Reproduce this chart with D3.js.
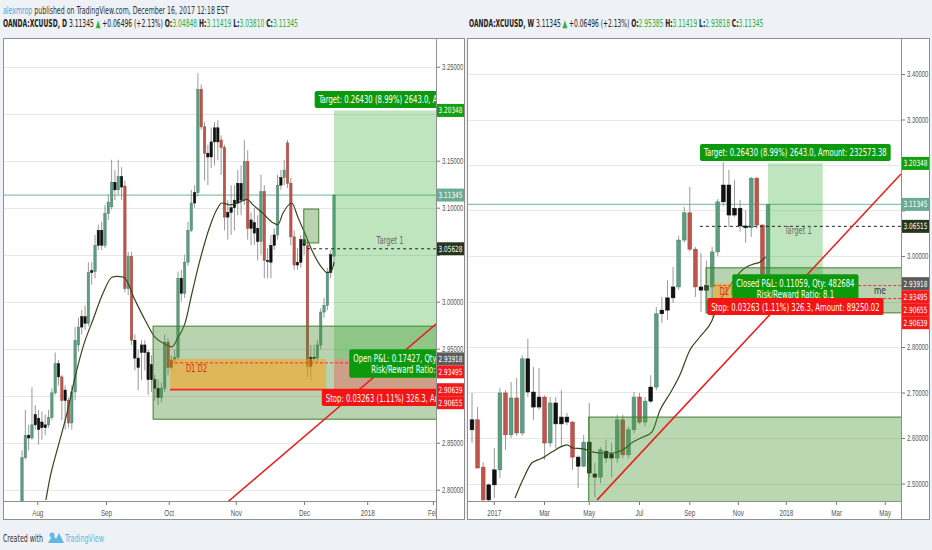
<!DOCTYPE html>
<html>
<head>
<meta charset="utf-8">
<script src="https://cdn.jsdelivr.net/npm/d3@7"></script>
<style>
  body { margin: 0; background: #eef1f5; }
  svg { display: block; font-family: "Liberation Sans Narrow", "DejaVu Sans Condensed", "Liberation Sans", sans-serif; }
</style>
</head>
<body>
<svg id="chart" width="932" height="550"></svg>
<script>
// ---------- daily candles (left) ----------
var leftOpen = [2.784,2.834,2.858,2.855,2.880,2.876,2.872,2.869,2.869,2.877,
  2.903,2.934,2.920,2.895,2.895,2.871,2.904,2.954,2.973,2.984,
  2.977,3.031,3.032,3.060,3.076,3.060,3.094,3.101,3.127,3.119,
  3.133,3.123,3.014,3.048,2.959,2.940,2.946,2.954,2.946,2.933,
  2.917,2.908,2.898,2.908,2.957,2.930,2.938,2.941,3.025,3.009,
  3.042,3.076,3.116,3.116,3.226,3.186,3.158,3.154,3.170,3.185,
  3.172,3.164,3.090,3.095,3.100,3.105,3.126,3.108,3.149,3.078,
  3.084,3.078,3.064,3.117,3.044,3.042,3.060,3.071,3.124,3.132,
  3.169,3.126,3.069,3.039,3.042,3.066,3.060,2.931,2.941,2.940,
  2.954,2.989,2.996,3.031,3.04848];
var leftClose = [2.834,2.858,2.855,2.869,2.869,2.864,2.866,2.866,2.877,2.903,
  2.934,2.920,2.895,2.906,2.871,2.904,2.959,2.973,2.984,2.977,
  3.031,3.033,3.060,3.076,3.060,3.094,3.106,3.127,3.119,3.133,
  3.122,3.014,3.048,2.959,2.940,2.930,2.954,2.946,2.917,2.917,
  2.908,2.898,2.908,2.957,2.930,2.938,2.941,3.025,3.009,3.042,
  3.076,3.105,3.105,3.226,3.186,3.158,3.154,3.170,3.185,3.170,
  3.164,3.090,3.095,3.100,3.108,3.126,3.108,3.149,3.078,3.087,
  3.073,3.064,3.117,3.044,3.043,3.060,3.071,3.124,3.132,3.140,
  3.126,3.069,3.039,3.042,3.066,3.060,2.931,2.941,2.940,2.954,
  2.989,2.996,3.031,3.050,3.11345];
var leftHigh = [2.842,2.885,2.869,2.909,2.890,2.885,2.883,2.880,2.885,2.908,
  2.946,2.938,2.922,2.911,2.898,2.911,2.973,2.983,2.991,2.996,
  3.042,3.042,3.071,3.082,3.085,3.103,3.114,3.151,3.140,3.151,
  3.143,3.129,3.053,3.053,2.965,2.949,2.959,2.959,2.949,2.943,
  2.922,2.917,2.914,2.965,2.961,2.943,2.949,3.032,3.034,3.050,
  3.085,3.119,3.124,3.243,3.231,3.191,3.167,3.185,3.191,3.193,
  3.177,3.167,3.108,3.124,3.124,3.140,3.145,3.172,3.161,3.095,
  3.100,3.092,3.135,3.124,3.057,3.071,3.078,3.135,3.140,3.151,
  3.172,3.132,3.076,3.057,3.071,3.076,3.066,2.954,2.954,2.959,
  2.993,3.004,3.036,3.055,3.11419];
var leftLow = [2.775,2.832,2.842,2.853,2.864,2.848,2.853,2.858,2.866,2.874,
  2.901,2.911,2.874,2.864,2.866,2.864,2.895,2.947,2.965,2.970,
  2.974,3.018,3.025,3.055,3.055,3.057,3.087,3.098,3.108,3.114,
  3.108,3.010,3.007,2.954,2.927,2.906,2.917,2.927,2.901,2.904,
  2.895,2.890,2.893,2.904,2.922,2.927,2.933,2.938,3.000,3.004,
  3.038,3.074,3.100,3.112,3.183,3.129,3.124,3.142,3.145,3.151,
  3.135,3.076,3.066,3.071,3.076,3.092,3.092,3.103,3.066,3.060,
  3.060,3.044,3.050,3.025,3.025,3.025,3.055,3.066,3.119,3.124,
  3.121,3.060,3.034,3.034,3.036,3.050,2.920,2.917,2.936,2.936,
  2.949,2.983,2.991,3.025,3.03810];
var leftColor = ("ggkgkkkkgg" + "gkrkrgggkk" + "gkgkkgggkg" + "krgrkkkkkk" + "kkggrkggkg" +
  "ggkgrrkkkk" + "rrkkkkkgrk" + "kkgrkkkgkg" + "rrrkkkrkkg" + "gggkg").split("");

// 20-period average as (bar, price)
var leftMaIdx = [7.2,8.4,10.8,13.6,16.0,18.4,21.4,24.4,27.1,28.6,30.7,34.0,37.0,40.1,42.5,45.2,47.0,49.1,51.2,53.6,
  56.6,58.7,60.2,62.7,65.7,67.8,69.6,72.6,75.6,77.1,78.6,81.3,83.1,85.2,87.7,90.4,91.9,93.4,94.0];
var leftMaVal = [2.789,2.812,2.845,2.882,2.920,2.952,2.981,3.009,3.026,3.027,3.026,3.002,2.981,2.962,2.956,2.952,2.962,2.977,3.009,3.044,
  3.080,3.098,3.105,3.103,3.106,3.109,3.103,3.094,3.084,3.082,3.094,3.105,3.090,3.073,3.052,3.036,3.031,3.034,3.042];

var leftTicks = [2.80,2.85,2.90,2.95,3.00,3.05,3.10,3.15,3.20,3.25];
var leftMonths = ["Aug","Sep","Oct","Nov","Dec","2018","Feb"];
var leftMonthIdx = [4.6,25.3,44.2,64.4,85.0,104.0,123.8];

// ---------- weekly candles (right) ----------
var rightOpen = [2.640,2.640,2.536,2.497,2.497,2.530,2.699,2.607,2.688,2.611,
  2.774,2.701,2.690,2.690,2.589,2.677,2.631,2.646,2.635,2.558,
  2.538,2.591,2.521,2.514,2.571,2.556,2.556,2.640,2.563,2.618,
  2.690,2.635,2.681,2.712,2.873,2.881,2.908,2.932,3.035,3.095,
  3.015,2.932,2.925,2.932,3.009,3.119,3.156,3.090,3.105,3.066,
  3.062,3.171,3.068,2.95385];
var rightHigh = [2.699,2.668,2.547,2.500,2.578,2.710,2.705,2.723,2.732,2.782,
  2.818,2.756,2.754,2.694,2.690,2.690,2.705,2.655,2.637,2.562,
  2.607,2.677,2.545,2.580,2.596,2.589,2.651,2.651,2.625,2.701,
  2.699,2.690,2.738,2.888,2.910,2.947,2.976,3.045,3.108,3.152,
  3.020,3.007,2.990,3.020,3.125,3.207,3.189,3.167,3.123,3.101,
  3.174,3.174,3.070,3.11419];
var rightLow = [2.589,2.534,2.450,2.455,2.468,2.512,2.574,2.600,2.605,2.605,
  2.690,2.640,2.662,2.552,2.580,2.578,2.580,2.628,2.530,2.490,
  2.536,2.514,2.470,2.501,2.545,2.514,2.545,2.556,2.556,2.610,
  2.630,2.626,2.677,2.705,2.853,2.859,2.897,2.925,3.030,3.010,
  2.910,2.877,2.880,2.866,3.000,3.110,3.064,3.086,3.053,3.029,
  3.042,3.060,2.963,2.93818];
var rightClose = [2.618,2.534,2.464,2.464,2.530,2.699,2.607,2.688,2.611,2.774,
  2.701,2.668,2.668,2.589,2.677,2.631,2.646,2.635,2.558,2.538,
  2.591,2.523,2.514,2.574,2.556,2.565,2.640,2.563,2.618,2.690,
  2.635,2.681,2.712,2.873,2.881,2.908,2.932,3.035,3.095,3.015,
  2.932,2.925,2.935,3.009,3.119,3.156,3.090,3.105,3.066,3.062,
  3.171,3.068,2.960,3.11345];
var rightColor = ("krrkkgrgrg" + "kkkrgkkkrk" + "gkkgkkgrgg" + "rgkgkkkggr" + "rkkggkkkkk" + "grrg").split("");

var rightMaIdx = [7.7,9.1,10.7,11.8,12.9,14.3,15.8,17.0,18.1,19.9,21.7,23.5,25.2,27.0,28.8,30.6,32.2,33.7,35.5,37.2,
  39.0,40.8,43.0,44.1,45.7,47.4,48.9,50.3,51.6,52.6];
var rightMaVal = [2.468,2.508,2.545,2.552,2.558,2.569,2.580,2.585,2.578,2.576,2.569,2.567,2.567,2.574,2.591,2.602,2.613,2.662,2.699,2.738,
  2.793,2.822,2.859,2.897,2.925,2.956,2.974,2.982,2.987,2.998];

var rightTicks = [2.50,2.60,2.70,2.80,2.90,3.00,3.10,3.20,3.30,3.40];
var rightMonths = ["2017","Mar","May","Jul","Sep","Nov","2018","Mar","May"];
var rightMonthIdx = [3.9,12.9,20.9,29.9,38.9,47.6,56.2,65.2,73.9];

// ---------- trade levels ----------
var lastPrice = 3.11345;
var targetPrice = 3.20348;
var entryPrice = 2.93918;
var stopPrice = 2.90655;
var d1Price = 2.93495;
var d2Price = 2.90639;
var zoneTop = 2.974, zoneBottom = 2.875;
var leftTarget1 = 3.05628, rightTarget1 = 3.06515;
var leftTags = [3.20348, 3.11345, 3.05628, 2.93918, 2.93495, 2.90639, 2.90655];
var rightTags = [3.20348, 3.11345, 3.06515, 2.93918, 2.93495, 2.90655, 2.90639];
var tagColors = ["#10a010", "#6aab96", "#26361c", "#5b5b5b", "#f41a1a", "#f41a1a", "#f41a1a"];

var svg = d3.select("#chart");
var GREEN = "#5d9e80", RED = "#c0544b", BLACK = "#111";

// text squeezed horizontally to a given width (the screenshot is narrow)
function txt(parent, x, y, s, o) {
  o = o || {};
  var t = parent.append("text")
    .attr("text-anchor", o.anchor || "start")
    .attr("font-size", o.size || 9)
    .attr("font-weight", o.weight || "normal")
    .attr("fill", o.fill || "#333")
    .text(s);
  var sx = o.sx || 0.8;
  if (o.width) sx = o.width / t.node().getComputedTextLength();
  t.attr("transform", "translate(" + x + "," + y + ") scale(" + sx + ",1)");
  return t;
}

function measure(s, size) {
  var t = svg.append("text").attr("font-size", size).text(s);
  var w = t.node().getComputedTextLength();
  t.remove();
  return w;
}

var labelK = 183 / measure("Target: 0.26430 (8.99%) 2643.0, Amount: 232573.38", 10.5);
var tickK = 22 / measure("3.25000", 8.5);
var tagK = 24 / measure("3.20348", 8.5);
var monthK = 11 / measure("Aug", 9.5);

function boxLabel(parent, cx, top, lines, fill) {
  var g = parent.append("g");
  var rect = g.append("rect");
  var w = 0;
  lines.forEach(function(s, k) {
    var t = txt(g, cx, top + 12.5 + k * 11.5, s, {anchor: "middle", size: 10.5, fill: "#fff", sx: labelK});
    w = Math.max(w, t.node().getComputedTextLength() * labelK);
  });
  rect.attr("x", cx - w / 2 - 4).attr("y", top).attr("width", w + 8)
    .attr("height", lines.length * 11.5 + 5.5).attr("rx", 2).attr("fill", fill);
}

function drawPanel(p) {
  var f = p.frame;
  var x = p.x, y = p.y;
  var g = svg.append("g");

  g.append("rect").attr("x", f.x0 + 0.5).attr("y", f.top + 0.5)
    .attr("width", f.x1 - f.x0).attr("height", f.bottom - f.top)
    .attr("fill", "#fff").attr("stroke", "#8f8f8f");

  svg.append("clipPath").attr("id", p.id)
    .append("rect").attr("x", f.x0 + 1).attr("y", f.top + 1)
    .attr("width", f.plotR - f.x0 - 1).attr("height", f.plotB - f.top - 1);
  svg.append("clipPath").attr("id", p.id + "x")
    .append("rect").attr("x", f.x0).attr("y", f.plotB).attr("width", f.plotR - f.x0).attr("height", 20);

  // grid
  g.append("g").selectAll("line").data(p.ticks).enter().append("line")
    .attr("x1", f.x0 + 1).attr("x2", f.plotR)
    .attr("y1", function(d) { return Math.round(y(d)) + 0.5; })
    .attr("y2", function(d) { return Math.round(y(d)) + 0.5; })
    .attr("stroke", "#e7e7e7");

  var plot = g.append("g").attr("clip-path", "url(#" + p.id + ")");

  // last price line
  plot.append("line").attr("x1", f.x0).attr("x2", f.plotR)
    .attr("y1", y(lastPrice)).attr("y2", y(lastPrice))
    .attr("stroke", "#8cc2b0").attr("stroke-width", 1.2);

  // candles
  var idx = d3.range(p.open.length);
  var bw = p.bodyW;
  var colorOf = function(i) { return p.color[i] === "g" ? GREEN : p.color[i] === "r" ? RED : BLACK; };
  plot.append("g").selectAll("line").data(idx).enter().append("line")
    .attr("x1", function(i) { return x(i); }).attr("x2", function(i) { return x(i); })
    .attr("y1", function(i) { return y(p.high[i]); }).attr("y2", function(i) { return y(p.low[i]); })
    .attr("stroke", "#8d8d8d").attr("stroke-width", 0.9);
  plot.append("g").selectAll("rect").data(idx).enter().append("rect")
    .attr("x", function(i) { return x(i) - bw / 2; })
    .attr("width", bw)
    .attr("y", function(i) { return y(Math.max(p.open[i], p.close[i])); })
    .attr("height", function(i) { return Math.max(1.2, Math.abs(y(p.open[i]) - y(p.close[i]))); })
    .attr("fill", colorOf)
    .attr("stroke", function(i) { return d3.color(colorOf(i)).darker(0.6); })
    .attr("stroke-width", 0.5);

  // moving average
  plot.append("path")
    .datum(d3.zip(p.maIdx, p.maVal))
    .attr("d", d3.line().curve(d3.curveMonotoneX).x(function(d) { return x(d[0]); }).y(function(d) { return y(d[1]); }))
    .attr("fill", "none").attr("stroke", "#34471a").attr("stroke-width", 1.2);

  // zones
  p.zones.forEach(function(z) {
    plot.append("rect")
      .attr("x", x(z.i0)).attr("width", x(z.i1) - x(z.i0))
      .attr("y", y(z.top)).attr("height", y(z.bottom) - y(z.top))
      .attr("fill", z.fill).attr("stroke", z.stroke || "none").attr("stroke-width", 1);
  });

  // D1 D2 lines
  plot.append("line").attr("x1", x(p.d1From)).attr("x2", f.plotR)
    .attr("y1", y(d1Price)).attr("y2", y(d1Price))
    .attr("stroke", "#e33").attr("stroke-dasharray", "3,2").attr("stroke-width", 1);
  plot.append("line").attr("x1", x(p.d1From)).attr("x2", f.plotR)
    .attr("y1", y(d2Price)).attr("y2", y(d2Price))
    .attr("stroke", "#f22").attr("stroke-dasharray", p.d2Dash).attr("stroke-width", p.d2Width);

  // long position tool
  plot.append("rect").attr("x", x(p.tool[0])).attr("width", x(p.tool[1]) - x(p.tool[0]))
    .attr("y", y(targetPrice)).attr("height", y(entryPrice) - y(targetPrice))
    .attr("fill", "rgba(40,170,40,0.3)");
  plot.append("rect").attr("x", x(p.tool[0])).attr("width", x(p.tool[1]) - x(p.tool[0]))
    .attr("y", y(entryPrice)).attr("height", y(stopPrice) - y(entryPrice))
    .attr("fill", "rgba(255,40,40,0.3)");

  // target 1
  plot.append("line").attr("x1", x(p.t1From)).attr("x2", f.plotR)
    .attr("y1", y(p.target1)).attr("y2", y(p.target1))
    .attr("stroke", "#222").attr("stroke-dasharray", "3,3");
  txt(plot, x(p.t1TextIdx), y(p.target1) + p.t1TextDy, "Target 1", {anchor: "middle", size: 10.5, fill: "#6b6b6b", width: 27});

  txt(plot, x(p.d1TextIdx), y(d1Price) + 9, "D1 D2", {size: 10.5, fill: "#e52222", width: 21});
  if (p.extraText) txt(plot, p.extraText[0], p.extraText[1], "me", {anchor: "end", size: 11, fill: "#333", width: 12});

  // trend line
  plot.append("line")
    .attr("x1", x(p.trend[0][0])).attr("y1", y(p.trend[0][1]))
    .attr("x2", x(p.trend[1][0])).attr("y2", y(p.trend[1][1]))
    .attr("stroke", "#ee1c1c").attr("stroke-width", 1.5);

  // tool labels
  var cx = (x(p.tool[0]) + x(p.tool[1])) / 2;
  boxLabel(plot, cx, y(targetPrice) - 19.5, [p.targetText], "#0c9a0c");
  boxLabel(plot, cx, y(entryPrice) - 9.5, p.pnlText, "#0c9a0c");
  boxLabel(plot, cx, y(stopPrice) - 0.5, [p.stopText], "#f41414");

  // axes
  g.append("line").attr("x1", f.plotR + 0.5).attr("x2", f.plotR + 0.5).attr("y1", f.top).attr("y2", f.bottom).attr("stroke", "#8f8f8f");
  g.append("line").attr("x1", f.x0).attr("x2", f.plotR).attr("y1", f.plotB + 0.5).attr("y2", f.plotB + 0.5).attr("stroke", "#8f8f8f");

  // price tag positions, pushed down so they do not overlap
  var prev = -1e9;
  var tagY = p.tags.map(function(v) {
    var yy = Math.max(y(v), prev + 13);
    prev = yy;
    return yy;
  });

  var ya = g.append("g").attr("transform", "translate(" + (f.plotR + 1) + ",0)")
    .call(d3.axisRight(y).tickValues(p.ticks).tickSize(3).tickFormat(d3.format(".5f")));
  ya.select(".domain").remove();
  ya.selectAll("line").attr("stroke", "#777");
  ya.selectAll("text").attr("font-family", null).attr("font-size", 8.5).attr("fill", "#555")
    .attr("x", 5 / tickK).attr("transform", "scale(" + tickK + ",1)");
  // labels fully under a price tag are not visible in the original
  ya.selectAll(".tick").filter(function(d) {
    return tagY.some(function(t) { return Math.abs(t - y(d)) < 9; });
  }).select("text").remove();

  var xWrap = g.append("g").attr("clip-path", "url(#" + p.id + "x)");
  var xa = xWrap.append("g").attr("transform", "translate(0," + (f.plotB + 1) + ")")
    .call(d3.axisBottom(x).tickValues(p.monthIdx).tickSize(3).tickFormat(function(d, i) { return p.months[i]; }));
  xa.select(".domain").remove();
  xa.selectAll("line").attr("stroke", "#777");
  xa.selectAll("text").attr("font-family", null).attr("font-size", 9.5).attr("fill", "#555")
    .attr("transform", "scale(" + monthK + ",1)").attr("y", 7);

  // price tags
  p.tags.forEach(function(v, k) {
    var yy = tagY[k];
    g.append("rect").attr("x", f.plotR + 1).attr("y", yy - 6.5)
      .attr("width", f.x1 - f.plotR - 1).attr("height", 13).attr("fill", tagColors[k]);
    txt(g, f.plotR + 2.5, yy + 3, v.toFixed(5), {size: 8.5, fill: "#fff", sx: tagK});
  });
}

var leftX = d3.scaleLinear().domain([0, 94]).range([22, 334]);
var leftY = d3.scaleLinear().domain([2.80, 3.25]).range([489.7, 66.7]);
var rightX = d3.scaleLinear().domain([0, 53]).range([472, 768]);
var rightY = d3.scaleLinear().domain([2.50, 3.40]).range([483.5, 74]);

drawPanel({
  id: "clipL",
  frame: {x0: 3, x1: 464, plotR: 436, top: 38, plotB: 501, bottom: 519},
  x: leftX, y: leftY, bodyW: 2.4,
  open: leftOpen, high: leftHigh, low: leftLow, close: leftClose, color: leftColor,
  maIdx: leftMaIdx, maVal: leftMaVal,
  ticks: leftTicks, months: leftMonths, monthIdx: leftMonthIdx,
  zones: [
    {i0: 39.5, i1: 140, top: zoneTop, bottom: zoneBottom, fill: "rgba(70,140,50,0.38)", stroke: "#3f7f2f"},
    {i0: 84.9, i1: 89.4, top: 3.0986, bottom: 3.0625, fill: "rgba(70,140,50,0.38)", stroke: "#3f7f2f"},
    {i0: 44.6, i1: 91.6, top: entryPrice, bottom: d2Price, fill: "rgba(255,160,20,0.55)"}
  ],
  d1From: 44.6, d1TextIdx: 49.4, d2Dash: null, d2Width: 1.8,
  tool: [94, 139.8],
  target1: leftTarget1, t1From: 85.9, t1TextIdx: 110.9, t1TextDy: -5,
  trend: [[60.0, 2.781], [126.0, 2.980]],
  targetText: "Target: 0.26430 (8.99%) 2643.0, Amount: 232573.38",
  pnlText: ["Open P&L: 0.17427, Qty: 482684", "Risk/Reward Ratio: 8.1"],
  stopText: "Stop: 0.03263 (1.11%) 326.3, Amount: 89250.02",
  tags: leftTags
});

drawPanel({
  id: "clipR",
  frame: {x0: 467, x1: 929, plotR: 901, top: 38, plotB: 501, bottom: 519},
  x: rightX, y: rightY, bodyW: 3.8,
  open: rightOpen, high: rightHigh, low: rightLow, close: rightClose, color: rightColor,
  maIdx: rightMaIdx, maVal: rightMaVal,
  ticks: rightTicks, months: rightMonths, monthIdx: rightMonthIdx,
  zones: [
    {i0: 20.9, i1: 80, top: 2.646, bottom: 2.40, fill: "rgba(70,150,50,0.38)", stroke: "#3f7f2f"},
    {i0: 41.9, i1: 80, top: zoneTop, bottom: zoneBottom, fill: "rgba(70,140,50,0.38)", stroke: "#3f7f2f"},
    {i0: 43.2, i1: 47.4, top: entryPrice, bottom: d2Price, fill: "rgba(255,160,20,0.55)"}
  ],
  d1From: 43.2, d1TextIdx: 44.3, d2Dash: "3,2", d2Width: 1,
  extraText: [886, 294],
  tool: [53, 62.8],
  target1: rightTarget1, t1From: 40.8, t1TextIdx: 58.4, t1TextDy: 8,
  trend: [[22.4, 2.464], [76.8, 3.180]],
  targetText: "Target: 0.26430 (8.99%) 2643.0, Amount: 232573.38",
  pnlText: ["Closed P&L: 0.11059, Qty: 482684", "Risk/Reward Ratio: 8.1"],
  stopText: "Stop: 0.03263 (1.11%) 326.3, Amount: 89250.02",
  tags: rightTags
});

// ---------- header ----------
function fitLine(t, x, y, width) {
  var w = t.node().getComputedTextLength();
  t.attr("transform", "translate(" + x + "," + y + ") scale(" + (width / w) + ",1)");
}
var h1 = svg.append("text").attr("font-size", 10.5);
h1.append("tspan").attr("fill", "#4ca6df").text("alexmrop");
h1.append("tspan").attr("fill", "#333").text(" published on TradingView.com, December 16, 2017 12:18 EST");
fitLine(h1, 3, 13.5, 226);

function quoteLine(x0, tf, o, h, l, c) {
  var t = svg.append("text").attr("font-size", 10.5).attr("fill", "#222");
  var G = "#2fae3a";
  t.append("tspan").attr("font-weight", "bold").text("OANDA:XCUUSD, " + tf);
  t.append("tspan").text(" 3.11345 ");
  t.append("tspan").attr("fill", G).text("\u25B2");
  t.append("tspan").text(" +0.06496 (+2.13%) ");
  [["O:", o], ["H:", h], ["L:", l], ["C:", c]].forEach(function(q, k) {
    t.append("tspan").attr("font-weight", "bold").text(q[0]);
    t.append("tspan").attr("fill", G).text(q[1] + (k < 3 ? " " : ""));
  });
  fitLine(t, x0, 26.5, 295);
}
quoteLine(3, "D", "3.04848", "3.11419", "3.03810", "3.11345");
quoteLine(469, "W", "2.95385", "3.11419", "2.93818", "3.11345");

// ---------- footer ----------
var f1 = svg.append("text").attr("font-size", 11).attr("fill", "#333").text("Created with");
fitLine(f1, 3, 542, 40);
svg.append("path").attr("d", "M48,543 L53,535 L56,539 L59,533 L64,543 Z").attr("fill", "#5fb7e8");
svg.append("circle").attr("cx", 52).attr("cy", 535).attr("r", 2.5).attr("fill", "#5fb7e8");
var f2 = svg.append("text").attr("font-size", 11).attr("fill", "#5fb7e8").text("TradingView");
fitLine(f2, 65, 542, 39);
</script>
</body>
</html>
